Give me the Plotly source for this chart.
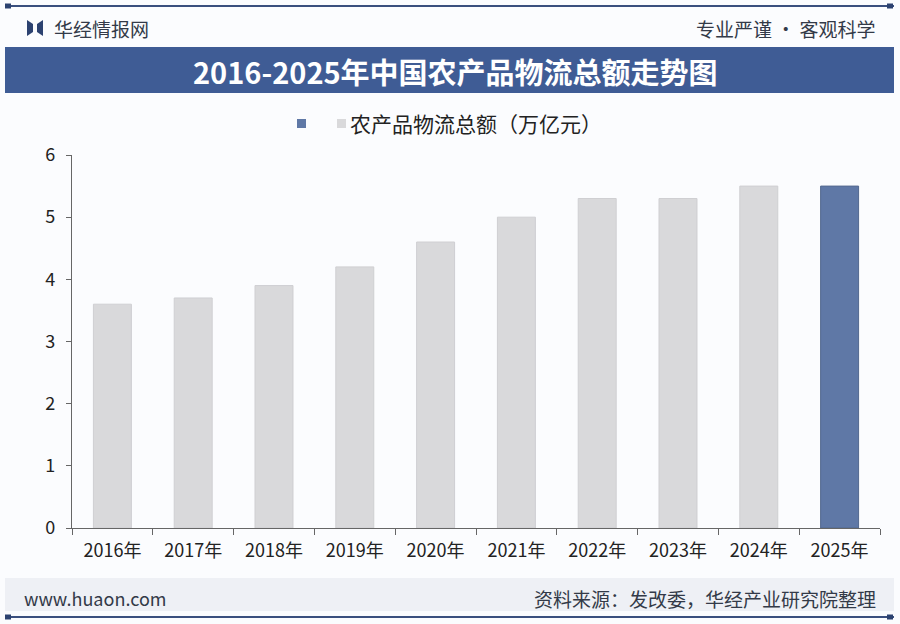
import plotly.graph_objects as go

# data
years = ["2016年", "2017年", "2018年", "2019年", "2020年",
         "2021年", "2022年", "2023年", "2024年", "2025年"]
values = [3.6, 3.7, 3.9, 4.2, 4.6, 5.0, 5.3, 5.3, 5.5, 5.5]
y_ticks = [0, 1, 2, 3, 4, 5, 6]

TITLE = "2016-2025年中国农产品物流总额走势图"
SERIES = "农产品物流总额（万亿元）"
SOURCE = "资料来源：发改委，华经产业研究院整理"

W, H = 900, 624
L, R, T, B = 72, 20, 155, 96  # plot area: x 72..880, y 155..528
PW, PH = W - L - R, H - T - B

BLUE = "#3f5c95"
BAR_GREY = "#d9d9db"
BAR_HI = "#5f78a6"
FONT = "Noto Sans CJK SC"


def px_x(px):
    return (px - L) / PW


def px_y(py):
    return (H - B - py) / PH


colors = [BAR_GREY] * (len(years) - 1) + [BAR_HI]
edges = ["#cfcfd2"] * (len(years) - 1) + ["#53698f"]

fig = go.Figure(go.Bar(
    x=years, y=values,
    marker=dict(color=colors, line=dict(color=edges, width=1)),
    width=0.47,
    showlegend=False,
))

shapes = []
# top and bottom rules with little end caps
for py in (6, 617):
    shapes.append(dict(type="line", xref="paper", yref="paper",
                       x0=px_x(6), x1=px_x(894), y0=px_y(py), y1=px_y(py),
                       line=dict(color="#3a4f7e", width=2)))
    for cx in (8, 890):
        shapes.append(dict(type="rect", xref="paper", yref="paper",
                           x0=px_x(cx - 3), x1=px_x(cx + 3), y0=px_y(py - 2.5), y1=px_y(py + 2.5),
                           fillcolor="#2c4270", line=dict(width=0)))
# title band
shapes.append(dict(type="rect", xref="paper", yref="paper",
                   x0=px_x(5), x1=px_x(894), y0=px_y(93), y1=px_y(47),
                   fillcolor=BLUE, line=dict(width=0), layer="below"))
# footer band
shapes.append(dict(type="rect", xref="paper", yref="paper",
                   x0=px_x(5), x1=px_x(894), y0=px_y(611), y1=px_y(578),
                   fillcolor="#eef0f5", line=dict(width=0), layer="below"))
# logo glyph
shapes.append(dict(type="path", xref="paper", yref="paper",
                   path=(f"M {px_x(27)},{px_y(20)} L {px_x(33)},{px_y(24)} L {px_x(33)},{px_y(32)} "
                         f"L {px_x(27)},{px_y(36)} Z"),
                   fillcolor="#2c4270", line=dict(width=0)))
shapes.append(dict(type="path", xref="paper", yref="paper",
                   path=(f"M {px_x(43)},{px_y(20)} L {px_x(37)},{px_y(24)} L {px_x(37)},{px_y(32)} "
                         f"L {px_x(43)},{px_y(36)} Z"),
                   fillcolor="#2c4270", line=dict(width=0)))
# legend markers
shapes.append(dict(type="rect", xref="paper", yref="paper",
                   x0=px_x(297), x1=px_x(306), y0=px_y(128), y1=px_y(119),
                   fillcolor=BAR_HI, line=dict(width=0)))
shapes.append(dict(type="rect", xref="paper", yref="paper",
                   x0=px_x(337), x1=px_x(346), y0=px_y(128), y1=px_y(119),
                   fillcolor=BAR_GREY, line=dict(width=0)))

annotations = [
    dict(text="华经情报网", x=px_x(52), y=px_y(28), xanchor="left", yanchor="middle",
         font=dict(size=19, color="#333a48", family=FONT)),
    dict(text="专业严谨 • 客观科学", x=px_x(878), y=px_y(28), xanchor="right", yanchor="middle",
         font=dict(size=19, color="#333a48", family=FONT)),
    dict(text=f"<b>{TITLE}</b>", x=px_x(455), y=px_y(71), xanchor="center", yanchor="middle",
         font=dict(size=29, color="white", family=FONT)),
    dict(text=SERIES, x=px_x(348), y=px_y(123), xanchor="left", yanchor="middle",
         font=dict(size=21, color="#222", family=FONT)),
    dict(text="www.huaon.com", x=px_x(22), y=px_y(598), xanchor="left", yanchor="middle",
         font=dict(size=18, color="#333a48", family=FONT)),
    dict(text=SOURCE, x=px_x(878), y=px_y(598), xanchor="right", yanchor="middle",
         font=dict(size=19, color="#333a48", family=FONT)),
]
for a in annotations:
    a.update(xref="paper", yref="paper", showarrow=False)

fig.update_layout(
    width=W, height=H,
    margin=dict(l=L, r=R, t=T, b=B),
    paper_bgcolor="#fbfcfe", plot_bgcolor="#fbfcfe",
    bargap=0.53,
    shapes=shapes,
    annotations=annotations,
    xaxis=dict(
        showline=True, linecolor="#666", linewidth=1.2,
        ticks="outside", ticklen=6, tickcolor="#666", tickson="boundaries",
        showgrid=False, ticklabelstandoff=6,
        tickfont=dict(size=18, color="#222", family=FONT),
    ),
    yaxis=dict(
        range=[0, 6], tickvals=y_ticks,
        showline=True, linecolor="#666", linewidth=1.2,
        ticks="outside", ticklen=5, tickcolor="#666",
        showgrid=False, zeroline=False, ticklabelstandoff=7,
        tickfont=dict(size=18, color="#222", family=FONT),
    ),
)

# the page's default body margin would shift the figure off the window
fig.write_html("out.html", config={"displayModeBar": False},
               post_script="document.body.style.margin='0';")
